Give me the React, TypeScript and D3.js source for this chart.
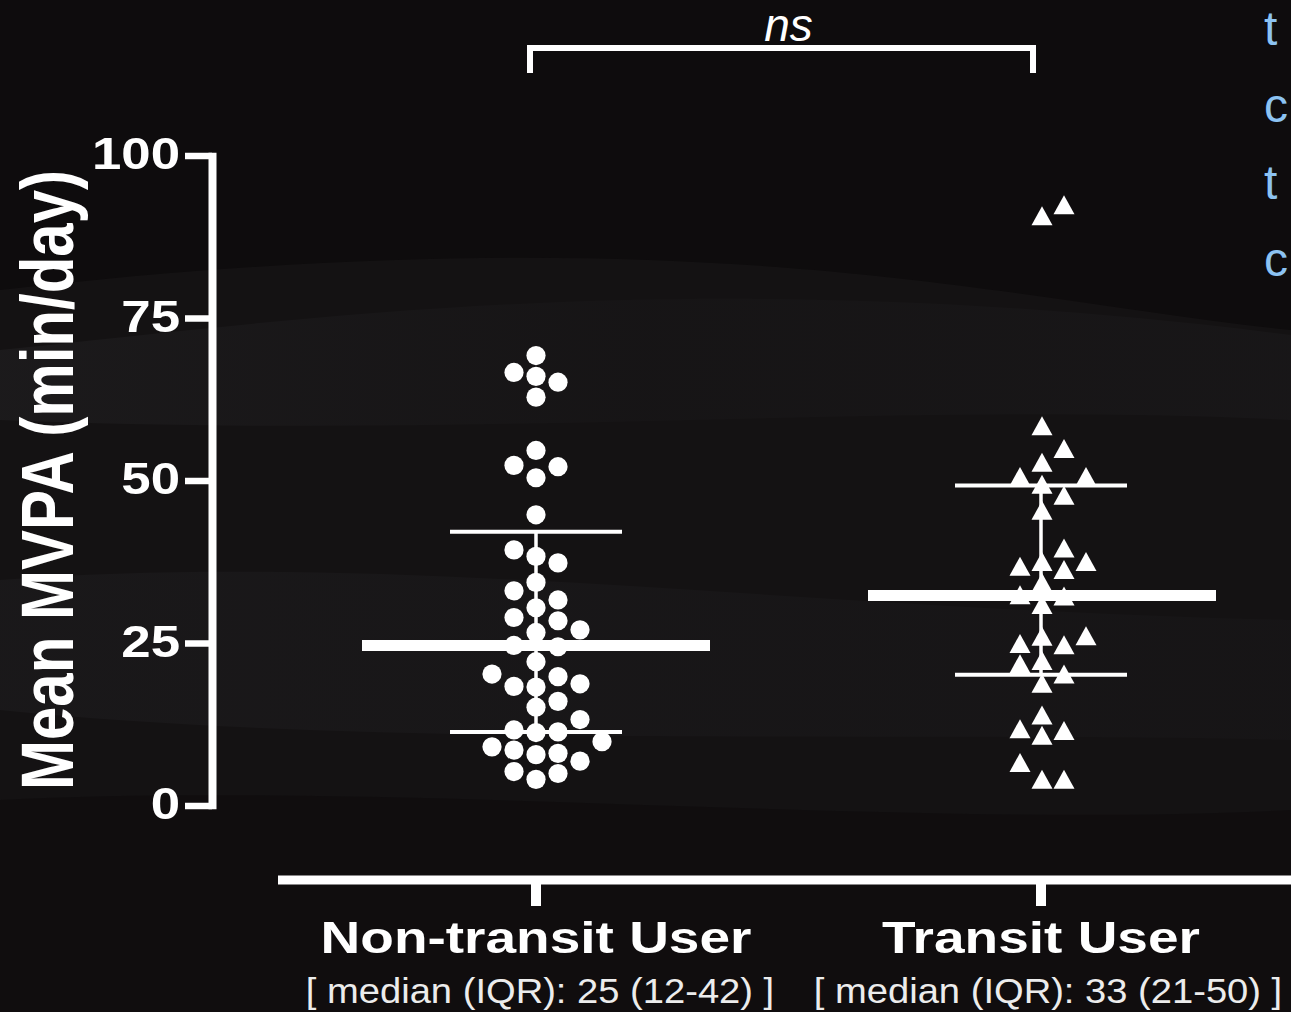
import React from "react";
import * as d3 from "d3";

const categories = ["Non-transit User", "Transit User"];
const subLabels = ["[ median (IQR): 25 (12-42) ]", "[ median (IQR): 33 (21-50) ]"];
const nonTransitValues = [
  69.3, 66.7, 66.1, 65.2, 62.9, 54.7, 52.4, 52.2, 50.5, 44.8, 39.4, 38.4, 37.4, 34.4, 33.1,
  31.7, 30.5, 29.0, 28.5, 27.1, 26.7, 24.7, 24.5, 22.2, 20.3, 19.9, 18.8, 18.4, 18.3, 16.1,
  15.2, 13.3, 11.7, 11.4, 11.3, 9.9, 9.1, 8.6, 8.1, 7.9, 6.9, 5.3, 5.0, 4.1,
];
const transitValues = [
  92.5, 90.8, 58.5, 55.0, 52.9, 50.7, 50.7, 49.5, 47.8, 45.5, 39.7, 37.6, 37.6, 36.9, 36.4,
  34.4, 32.5, 32.3, 31.0, 26.2, 26.1, 25.0, 24.8, 22.4, 21.9, 20.3, 18.9, 14.0, 11.9, 11.6,
  10.9, 6.7, 4.1, 4.1,
];
const medians = [24.7, 32.4];
const q1s = [11.4, 20.2];
const q3s = [42.2, 49.3];
const yTicks = [0, 25, 50, 75, 100];
const sigLabel = "ns";
const yTitle = "Mean MVPA (min/day)";
const sideLetters = ["t", "c", "t", "c"];

const W = 1291;
const H = 1012;
const FONT = "'Liberation Sans', Arial, Helvetica, sans-serif";

type Placed = { v: number; k: number };

function swarm(values: number[], y: (v: number) => number, minGap: number): Placed[] {
  const placed: { k: number; y: number }[] = [];
  const order = values.map((v, i) => ({ v, i })).sort((a, b) => a.v - b.v);
  const offsets = [0, 1, -1, 2, -2, 3, -3, 4, -4];
  const res: Placed[] = new Array(values.length);
  for (const { v, i } of order) {
    const py = y(v);
    for (const k of offsets) {
      if (placed.every((p) => p.k !== k || Math.abs(p.y - py) >= minGap)) {
        placed.push({ k, y: py });
        res[i] = { v, k };
        break;
      }
    }
  }
  return res;
}

export default function App() {
  const y = d3.scaleLinear().domain([0, 100]).range([806, 156]);
  const x = d3.scalePoint<string>().domain(categories).range([536, 1041]);
  const step = 22;
  const sx = 1.25;

  const nt = swarm(nonTransitValues, y, 20);
  const tr = swarm(transitValues, y, 20);

  const triW = 21;
  const triH = 19;
  const triPath = `M0,${-triH / 2}L${triW / 2},${triH / 2}L${-triW / 2},${triH / 2}Z`;

  const x0 = x(categories[0])!;
  const x1 = x(categories[1])!;

  return (
    <svg
      width={W}
      height={H}
      style={{ position: "absolute", left: 0, top: 0, display: "block" }}
      fontFamily={FONT}
    >
      <defs>
        <linearGradient id="band1" x1="0" y1="0" x2="1" y2="0">
          <stop offset="0" stopColor="#3a3a3e" stopOpacity="0.2" />
          <stop offset="0.5" stopColor="#2c2c30" stopOpacity="0.1" />
          <stop offset="1" stopColor="#2a2a2e" stopOpacity="0.18" />
        </linearGradient>
        <linearGradient id="band2" x1="0" y1="0" x2="1" y2="0">
          <stop offset="0" stopColor="#2e2e32" stopOpacity="0.22" />
          <stop offset="1" stopColor="#26262a" stopOpacity="0.14" />
        </linearGradient>
      </defs>
      <rect x={0} y={0} width={W} height={H} fill="#141213" />
      <path d="M0,0 L1291,0 L1291,330 C1000,300 700,210 0,290 Z" fill="#0e0c0d" />
      <path d="M0,350 C300,320 700,260 1291,335 L1291,420 C900,400 500,440 0,420 Z" fill="url(#band1)" />
      <path d="M0,580 C400,550 800,610 1291,620 L1291,740 C900,730 400,750 0,710 Z" fill="url(#band2)" />
      <path d="M0,800 C400,780 900,830 1291,810 L1291,1012 L0,1012 Z" fill="#0f0d0e" opacity="0.8" />

      {sideLetters.map((t, i) => (
        <text key={"s" + i} x={1264} y={45 + i * 77} fontSize={48} fill="#8cc3f2">
          {t}
        </text>
      ))}

      <line x1={212.5} x2={212.5} y1={y(100) - 3.3} y2={y(0) + 3.3} stroke="#fff" strokeWidth={8} />
      {yTicks.map((t) => (
        <g key={"t" + t}>
          <line x1={185} x2={212} y1={y(t)} y2={y(t)} stroke="#fff" strokeWidth={6.5} />
          <text
            transform={`translate(180,${y(t) + 13}) scale(1.2,1)`}
            textAnchor="end"
            fontSize={44}
            fontWeight="bold"
            fill="#fff"
          >
            {t}
          </text>
        </g>
      ))}
      <text
        transform={`translate(73,480) scale(${sx},1) rotate(-90)`}
        textAnchor="middle"
        fontSize={60}
        fontWeight="bold"
        fill="#fff"
      >
        {yTitle}
      </text>

      <line x1={278} x2={W} y1={880} y2={880} stroke="#fff" strokeWidth={9} />
      {categories.map((c, i) => (
        <g key={"c" + c}>
          <line x1={x(c)!} x2={x(c)!} y1={880} y2={906} stroke="#fff" strokeWidth={10} />
          <text
            transform={`translate(${x(c)!},953) scale(${sx},1)`}
            textAnchor="middle"
            fontSize={44}
            fontWeight="bold"
            fill="#fff"
          >
            {c}
          </text>
          <text
            transform={`translate(${x(c)! + 4 + i * 3},1003) scale(1.09,1)`}
            textAnchor="middle"
            fontSize={35}
            fill="#ececec"
          >
            {subLabels[i]}
          </text>
        </g>
      ))}

      <path
        d={`M${x0 - 6},73 L${x0 - 6},48 L${x1 - 8},48 L${x1 - 8},73`}
        fill="none"
        stroke="#fff"
        strokeWidth={6}
      />
      <text x={(x0 + x1) / 2} y={41} textAnchor="middle" fontSize={46} fontStyle="italic" fill="#fff">
        {sigLabel}
      </text>

      {categories.map((c, i) => (
        <g key={"m" + c}>
          <line x1={x(c)!} x2={x(c)!} y1={y(q3s[i])} y2={y(q1s[i])} stroke="#fff" strokeWidth={3.5} />
          <line x1={x(c)! - 86} x2={x(c)! + 86} y1={y(q3s[i])} y2={y(q3s[i])} stroke="#fff" strokeWidth={4} />
          <line x1={x(c)! - 86} x2={x(c)! + 86} y1={y(q1s[i])} y2={y(q1s[i])} stroke="#fff" strokeWidth={4} />
        </g>
      ))}

      {nt.map((p, i) => (
        <circle key={"n" + i} cx={x0 + p.k * step} cy={y(p.v)} r={9.6} fill="#fff" />
      ))}
      {tr.map((p, i) => (
        <path key={"r" + i} d={triPath} transform={`translate(${x1 + 1 + p.k * step},${y(p.v)})`} fill="#fff" />
      ))}

      {categories.map((c, i) => (
        <line
          key={"md" + c}
          x1={x(c)! - 174 + i}
          x2={x(c)! + 174 + i}
          y1={y(medians[i])}
          y2={y(medians[i])}
          stroke="#fff"
          strokeWidth={11}
        />
      ))}
    </svg>
  );
}
